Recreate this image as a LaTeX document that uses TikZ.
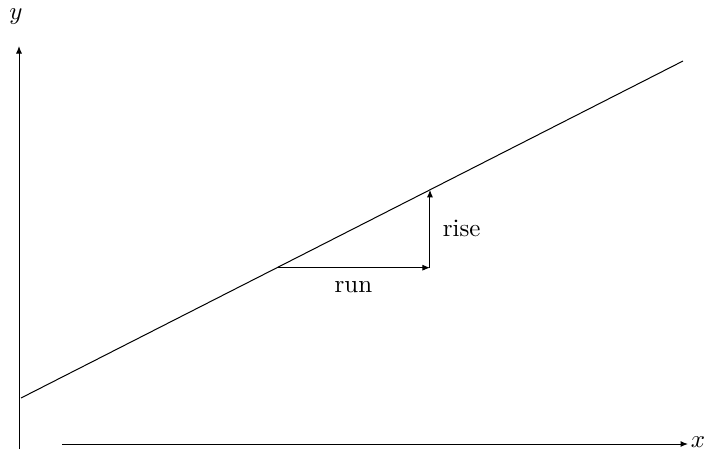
\documentclass[tikz,border=0pt]{standalone}
\usetikzlibrary{calc,arrows.meta}
\tikzset{
  axis/.style={-{Latex[length=3pt,width=2.4pt]},line width=0.4pt},
  vec/.style={-{Latex[length=3pt,width=2.4pt]},line width=0.4pt},
}

\begin{document}
\begin{tikzpicture}[x=0.4pt,y=0.4pt]
\useasboundingbox (0,0) rectangle (706,449);
\coordinate (ybot) at (19,0);
\coordinate (ytop) at (19,403);
\coordinate (xlft) at (62,5);
\coordinate (xrgt) at (688,5);
\coordinate (lstart) at (21,51);
\coordinate (lend) at (683,388);
\coordinate (p) at ($(lstart)!0.3867!(lend)$);
\coordinate (q) at ($(lstart)!0.6178!(lend)$);
\coordinate (c) at (q |- p);
\node[inner sep=0pt] (ylab) at (16,432) {$y$};
\node[inner sep=0pt] (xlab) at (698,7) {$x$};
\node[anchor=west] (rise) at ($(c)!0.5!(q)+(4,0)$) {rise};
\node[anchor=north] (run) at ($(p)!0.5!(c)+(0,-5)$) {run};
\draw[axis] (ybot) -- (ytop);
\draw[axis] (xlft) -- (xrgt);
\draw[line width=0.4pt] (lstart) -- (lend);
\draw[vec] (p) -- (c);
\draw[vec] (c) -- (q);
\end{tikzpicture}
\end{document}
